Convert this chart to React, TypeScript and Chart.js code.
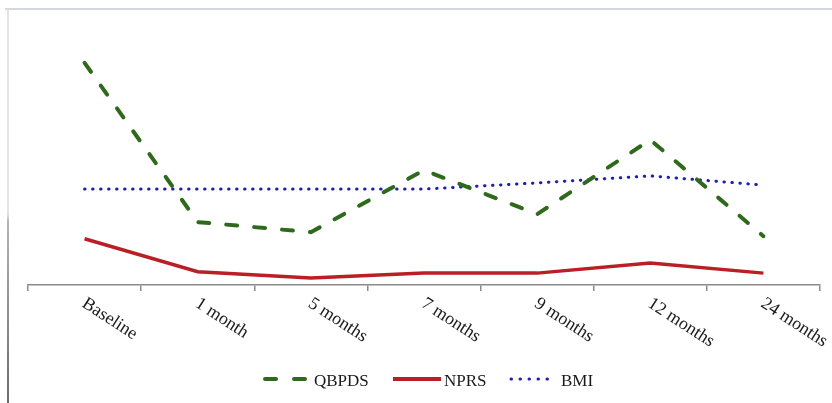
import React, { useEffect, useRef } from "react";
import { Chart, registerables } from "chart.js";

Chart.register(...registerables);

const categories = ["Baseline", "1 month", "5 months", "7 months", "9 months", "12 months", "24 months"];
const seriesNames = ["QBPDS", "NPRS", "BMI"];
const qbpdsValues = [50.5, 14.3, 12.0, 26.1, 16.1, 33.0, 11.1];
const nprsValues = [10.5, 3.0, 1.6, 2.7, 2.7, 5.0, 2.7];
const bmiValues = [21.8, 21.8, 21.8, 21.8, 23.2, 24.8, 22.7];

const GREEN = "#2f6a1c";
const RED = "#b91f25";
const BLUE = "#1f1fb0";
const FONT = "'Liberation Serif', 'Times New Roman', serif";

const customDraw = {
  id: "customDraw",
  afterDraw(chart: any) {
    const ctx = chart.ctx as CanvasRenderingContext2D;
    const xs = chart.scales.x;
    ctx.save();
    // rotated category labels
    ctx.fillStyle = "#1a1a1a";
    ctx.font = `18px ${FONT}`;
    ctx.textAlign = "left";
    ctx.textBaseline = "alphabetic";
    categories.forEach((c, i) => {
      const x = xs.getPixelForValue(i);
      ctx.save();
      ctx.translate(x + 3, 296);
      ctx.rotate((33 * Math.PI) / 180);
      ctx.fillText(c, 0, 12);
      ctx.restore();
    });
    // legend
    const ly = 379;
    ctx.lineWidth = 4;
    ctx.strokeStyle = GREEN;
    ctx.lineCap = "round";
    ctx.setLineDash([11, 18]);
    ctx.beginPath();
    ctx.moveTo(265, ly);
    ctx.lineTo(306, ly);
    ctx.stroke();

    ctx.strokeStyle = RED;
    ctx.lineCap = "butt";
    ctx.setLineDash([]);
    ctx.beginPath();
    ctx.moveTo(393, ly);
    ctx.lineTo(441, ly);
    ctx.stroke();

    ctx.strokeStyle = BLUE;
    ctx.lineWidth = 3;
    ctx.lineCap = "round";
    ctx.setLineDash([0.5, 8.5]);
    ctx.beginPath();
    ctx.moveTo(511, ly);
    ctx.lineTo(556, ly);
    ctx.stroke();
    ctx.setLineDash([]);

    ctx.fillStyle = "#1a1a1a";
    ctx.font = `17px ${FONT}`;
    ctx.textBaseline = "alphabetic";
    const textX = [314, 444, 561];
    seriesNames.forEach((n, i) => ctx.fillText(n, textX[i], 386));
    ctx.restore();
  },
};

export default function App() {
  const ref = useRef<HTMLCanvasElement | null>(null);
  useEffect(() => {
    if (!ref.current) return;
    const chart = new Chart(ref.current, {
      type: "line",
      data: {
        labels: categories,
        datasets: [
          {
            label: seriesNames[0],
            data: qbpdsValues,
            borderColor: GREEN,
            borderWidth: 4,
            borderDash: [11, 17],
            borderCapStyle: "round",
            pointRadius: 0,
            tension: 0,
            fill: false,
          },
          {
            label: seriesNames[1],
            data: nprsValues,
            borderColor: RED,
            borderWidth: 3.5,
            pointRadius: 0,
            tension: 0,
            fill: false,
          },
          {
            label: seriesNames[2],
            data: bmiValues,
            borderColor: BLUE,
            borderWidth: 3,
            borderDash: [0.5, 7.5],
            borderCapStyle: "round",
            pointRadius: 0,
            tension: 0,
            fill: false,
          },
        ],
      },
      options: {
        animation: false,
        responsive: false,
        devicePixelRatio: 1,
        layout: { padding: { left: 28, right: 12, top: 21, bottom: 112 } },
        plugins: { legend: { display: false }, tooltip: { enabled: false } },
        events: [],
        scales: {
          x: {
            type: "category",
            offset: true,
            grid: {
              display: true,
              drawOnChartArea: false,
              drawTicks: true,
              tickLength: 6,
              color: "#8a8a8a",
              lineWidth: 1.5,
              offset: true,
            },
            border: { display: true, color: "#8a8a8a", width: 1.5 },
            ticks: { display: false },
          },
          y: { display: false, min: 0, max: 60 },
        },
      },
      plugins: [customDraw],
    });
    return () => chart.destroy();
  }, []);

  return (
    <div style={{ position: "fixed", left: 0, top: 0, width: 832, height: 403, background: "#fff" }}>
      <div style={{ position: "absolute", left: 5, top: 8, right: 0, height: 2, background: "#d3d7df" }} />
      <div
        style={{
          position: "absolute",
          left: 7,
          top: 9,
          width: 2,
          bottom: 0,
          background: "linear-gradient(to bottom, #e4e4e4 0%, #e4e4e4 52%, #b4b4b4 54%, #6a6a6a 100%)",
        }}
      />
      <canvas ref={ref} width={832} height={403} style={{ position: "absolute", left: 0, top: 0 }} />
    </div>
  );
}
